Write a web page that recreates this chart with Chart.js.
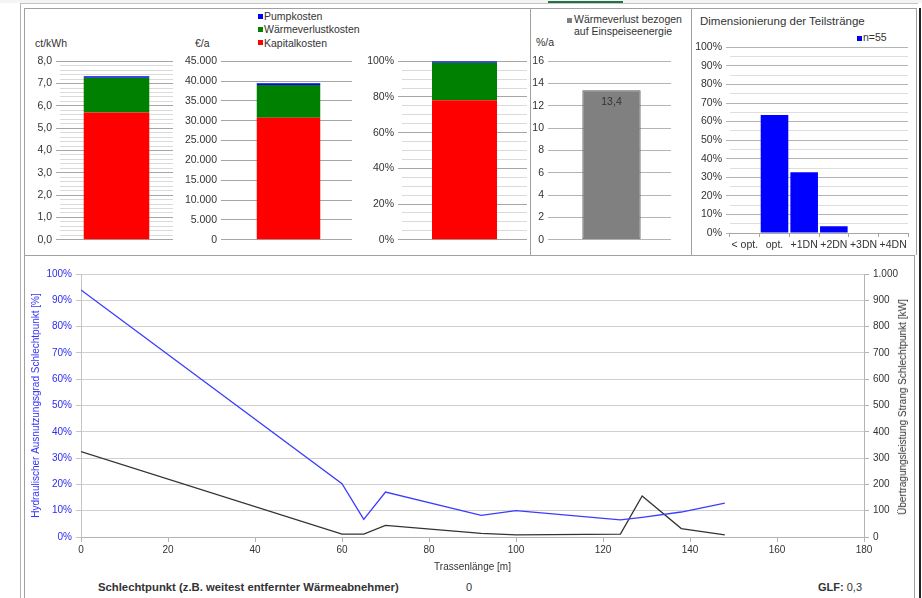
<!DOCTYPE html>
<html>
<head>
<meta charset="utf-8">
<title>Kosten und Schlechtpunkt</title>
<script src="https://cdn.jsdelivr.net/npm/chart.js@4.4.1/dist/chart.umd.min.js"></script>
<style>
body{margin:0;width:922px;height:598px;overflow:hidden;background:#fff;position:relative;font-family:"Liberation Sans",Arial,sans-serif;color:#333}
.ln{position:absolute;background:#a0a0a0}
canvas{position:absolute}
.t{position:absolute;font-size:10.5px;line-height:13px;white-space:nowrap}
.sq{position:absolute;width:5px;height:5px}
</style>
</head>
<body>
<!-- frame -->
<div class="ln" style="left:0;top:0;width:922px;height:3px;background:#f4f4f4"></div>
<div class="ln" style="left:548px;top:1px;width:75px;height:2px;background:#217346"></div>
<div class="ln" style="left:20px;top:3px;width:898px;height:1px;background:#c4c4c4"></div>
<div class="ln" style="left:20px;top:3px;width:1px;height:595px;background:#b4b4b4"></div>
<div class="ln" style="left:24px;top:8px;width:892px;height:1px"></div>
<div class="ln" style="left:24px;top:8px;width:1px;height:590px"></div>
<div class="ln" style="left:24px;top:255px;width:890px;height:1px"></div>
<div class="ln" style="left:530px;top:8px;width:1px;height:247px"></div>
<div class="ln" style="left:691px;top:8px;width:1px;height:247px"></div>
<div class="ln" style="left:916px;top:8px;width:1px;height:247px"></div>
<div class="ln" style="left:914px;top:255px;width:1px;height:343px"></div>
<div class="ln" style="left:919px;top:8px;width:2px;height:590px;background:#222"></div>

<!-- legend costs -->
<div class="sq" style="left:258px;top:14px;background:#0000ff"></div>
<div class="t" style="left:264px;top:10px">Pumpkosten</div>
<div class="sq" style="left:258px;top:27px;background:#008000"></div>
<div class="t" style="left:264px;top:23px">Wärmeverlustkosten</div>
<div class="sq" style="left:258px;top:40px;background:#ff0000"></div>
<div class="t" style="left:264px;top:37px">Kapitalkosten</div>

<div class="t" style="left:35px;top:37px">ct/kWh</div>
<div class="t" style="left:195px;top:37px">€/a</div>
<div class="t" style="left:536px;top:36px">%/a</div>

<div class="sq" style="left:567px;top:18px;background:#808080"></div>
<div class="t" style="left:574px;top:13px">Wärmeverlust bezogen</div>
<div class="t" style="left:574px;top:25px">auf Einspeiseenergie</div>

<div class="t" style="left:700px;top:14px;font-size:11.5px;line-height:14px">Dimensionierung der Teilstränge</div>
<div class="sq" style="left:857px;top:36px;background:#0000ff"></div>
<div class="t" style="left:863px;top:31px">n=55</div>

<canvas id="c1" width="149" height="199" style="left:26px;top:51px"></canvas>
<canvas id="c2" width="174" height="199" style="left:180px;top:51px"></canvas>
<canvas id="c3" width="169" height="199" style="left:360px;top:51px"></canvas>
<canvas id="c4" width="143" height="199" style="left:530px;top:51px"></canvas>
<canvas id="c5" width="218" height="216" style="left:693px;top:37px"></canvas>
<canvas id="c6" width="888" height="313" style="left:26px;top:264px"></canvas>

<div class="t" style="left:903px;top:407px;font-size:10px;line-height:12px;transform:translate(-50%,-50%) rotate(-90deg)">Übertragungsleistung Strang Schlechtpunkt [kW]</div>

<div class="t" style="left:98px;top:581px;width:301px;overflow:hidden;font-size:11.3px;font-weight:bold">Schlechtpunkt (z.B. weitest entfernter Wärmeabnehmer)</div>
<div class="t" style="left:466px;top:581px;font-size:11px">0</div>
<div class="t" style="left:818px;top:581px;font-size:11px"><b>GLF:</b> 0,3</div>

<script>
// Kostenanteile (Kapital, Wärmeverlust, Pumpen)
var costLabels = ['Kapitalkosten', 'Wärmeverlustkosten', 'Pumpkosten'];
var costColors = ['#ff0000', '#008000', '#0000ff'];
var costCtKWh = [5.70, 1.56, 0.07];
var costEuroYear = [30750, 8300, 420];
var costShare = [78.2, 21.0, 0.8];

var heatLoss = [13.4];

var dnLabels = ['< opt.', 'opt.', '+1DN', '+2DN', '+3DN', '+4DN'];
var dnShare = [0, 63.6, 32.7, 3.6, 0, 0];

// Schlechtpunkt entlang der Trasse
var routeLength = [0, 60, 65, 70, 92, 100, 124, 129, 138, 148];
var hydraulicUse = [93.9, 20.3, 6.7, 17.1, 8.2, 10.0, 6.5, 7.5, 9.5, 12.9];
var transferPower = [325, 11, 11, 44, 14, 8, 11, 156, 32, 8];

Chart.defaults.font.family = '"Liberation Sans", Arial, sans-serif';
Chart.defaults.font.size = 10.5;
Chart.defaults.color = '#333';
Chart.defaults.animation = false;

function fixW(w){ return function(s){ s.width = w; }; }
function fixH(h){ return function(s){ s.height = h; }; }
function isMul(v, m){ return Math.abs(v / m - Math.round(v / m)) < 1e-6; }
function deNum(v, d){
    var s = v.toFixed(d).split('.');
    s[0] = s[0].replace(/\B(?=(\d{3})+(?!\d))/g, '.');
    return s.join(',');
}
var noLegend = {legend:{display:false}, tooltip:{enabled:false}};

function yAxis(max, step, labelStep, fmt, w, major, minor){
    return {
        stacked:true, min:0, max:max, afterFit:fixW(w),
        border:{display:false},
        ticks:{stepSize:step, autoSkip:false, maxTicksLimit:200, padding:4,
            callback:function(v){ return isMul(v, labelStep) ? fmt(v) : ''; }},
        grid:{tickLength:4,
            color:function(c){ return isMul(c.tick.value, labelStep) ? major : minor; },
            tickColor:function(c){ return isMul(c.tick.value, labelStep) ? major : 'rgba(0,0,0,0)'; }}
    };
}

function stackChart(id, values, yScale, barPct){
    return new Chart(document.getElementById(id), {
        type:'bar',
        data:{labels:[''], datasets:values.map(function(v, i){
            return {label:costLabels[i], data:[v], backgroundColor:costColors[i]};
        })},
        options:{
            responsive:false,
            layout:{padding:{top:10, bottom:10, right:2, left:0}},
            plugins:noLegend,
            datasets:{bar:{categoryPercentage:1, barPercentage:barPct}},
            scales:{x:{stacked:true, display:false}, y:yScale}
        }
    });
}

stackChart('c1', costCtKWh, yAxis(8, 0.2, 1, function(v){ return deNum(v, 1); }, 34, '#a6a6a6', '#dadada'), 0.58);
stackChart('c2', costEuroYear, yAxis(45000, 5000, 5000, function(v){ return deNum(v, 0); }, 45, '#a6a6a6', '#dadada'), 0.5);
stackChart('c3', costShare, yAxis(100, 5, 20, function(v){ return v + '%'; }, 42, '#a6a6a6', '#dadada'), 0.52);

// Wärmeverlust mit Wertbeschriftung
var valueLabel = {
    id:'valueLabel',
    afterDatasetsDraw:function(chart){
        var ctx = chart.ctx;
        var bar = chart.getDatasetMeta(0).data[0];
        ctx.save();
        ctx.fillStyle = '#333';
        ctx.font = '10.5px "Liberation Sans", Arial, sans-serif';
        ctx.textAlign = 'center';
        ctx.textBaseline = 'middle';
        ctx.fillText(deNum(heatLoss[0], 1), bar.x, bar.y + 12);
        ctx.restore();
    }
};
new Chart(document.getElementById('c4'), {
    type:'bar',
    data:{labels:[''], datasets:[{label:'Wärmeverlust bezogen auf Einspeiseenergie', data:heatLoss,
        backgroundColor:'#808080', borderColor:'#595959', borderWidth:1, borderSkipped:false}]},
    options:{
        responsive:false,
        layout:{padding:{top:10, bottom:10, right:2, left:0}},
        plugins:noLegend,
        datasets:{bar:{categoryPercentage:1, barPercentage:0.49}},
        scales:{x:{display:false}, y:yAxis(16, 2, 2, function(v){ return v; }, 22, '#b4b4b4', '#b4b4b4')}
    },
    plugins:[valueLabel]
});

// Dimensionierung
var y5 = yAxis(100, 5, 10, function(v){ return v + '%'; }, 37, '#b4b4b4', '#dedede');
y5.stacked = false;
new Chart(document.getElementById('c5'), {
    type:'bar',
    data:{labels:dnLabels, datasets:[{label:'n=55', data:dnShare, backgroundColor:'#0000ff'}]},
    options:{
        responsive:false,
        layout:{padding:{top:10, bottom:0, right:3, left:0}},
        plugins:noLegend,
        datasets:{bar:{categoryPercentage:1, barPercentage:0.93}},
        scales:{
            x:{afterFit:fixH(20), border:{color:'#a6a6a6'},
               grid:{drawOnChartArea:false, offset:true, tickLength:4, tickColor:'#a6a6a6'},
               ticks:{padding:2, maxRotation:0, autoSkip:false}},
            y:y5
        }
    }
});

// Schlechtpunkt-Verlauf
function pairs(ys){ return routeLength.map(function(x, i){ return {x:x, y:ys[i]}; }); }
new Chart(document.getElementById('c6'), {
    type:'line',
    data:{datasets:[
        {label:'Hydraulischer Ausnutzungsgrad', data:pairs(hydraulicUse), yAxisID:'yL',
         borderColor:'#3c3cff', borderWidth:1.3, pointRadius:0, tension:0},
        {label:'Übertragungsleistung', data:pairs(transferPower), yAxisID:'yR',
         borderColor:'#333', borderWidth:1.3, pointRadius:0, tension:0}
    ]},
    options:{
        responsive:false,
        layout:{padding:{top:10, bottom:0, left:0, right:0}},
        plugins:noLegend,
        scales:{
            x:{type:'linear', min:0, max:180, afterFit:fixH(40),
               border:{color:'#b4b4b4'},
               grid:{drawOnChartArea:false, tickLength:5, tickColor:'#b4b4b4'},
               ticks:{stepSize:20, padding:2, font:{size:10}},
               title:{display:true, text:'Trassenlänge [m]', font:{size:10}, color:'#333'}},
            yL:{position:'left', min:0, max:100, afterFit:fixW(55),
                border:{color:'#c4c4c4'},
                grid:{color:'#cfcfcf', tickLength:5, tickColor:'#c4c4c4'},
                ticks:{stepSize:10, padding:4, color:'#2b2bf0', font:{size:10},
                       callback:function(v){ return v + '%'; }},
                title:{display:true, text:'Hydraulischer Ausnutzungsgrad Schlechtpunkt [%]', color:'#3333ff', font:{size:10}}},
            yR:{position:'right', min:0, max:1000, afterFit:fixW(50),
                border:{color:'#b4b4b4'},
                grid:{drawOnChartArea:false, tickLength:5, tickColor:'#b4b4b4'},
                ticks:{stepSize:100, padding:4, font:{size:10},
                       callback:function(v){ return deNum(v, 0); }}}
        }
    }
});
</script>
</body>
</html>
